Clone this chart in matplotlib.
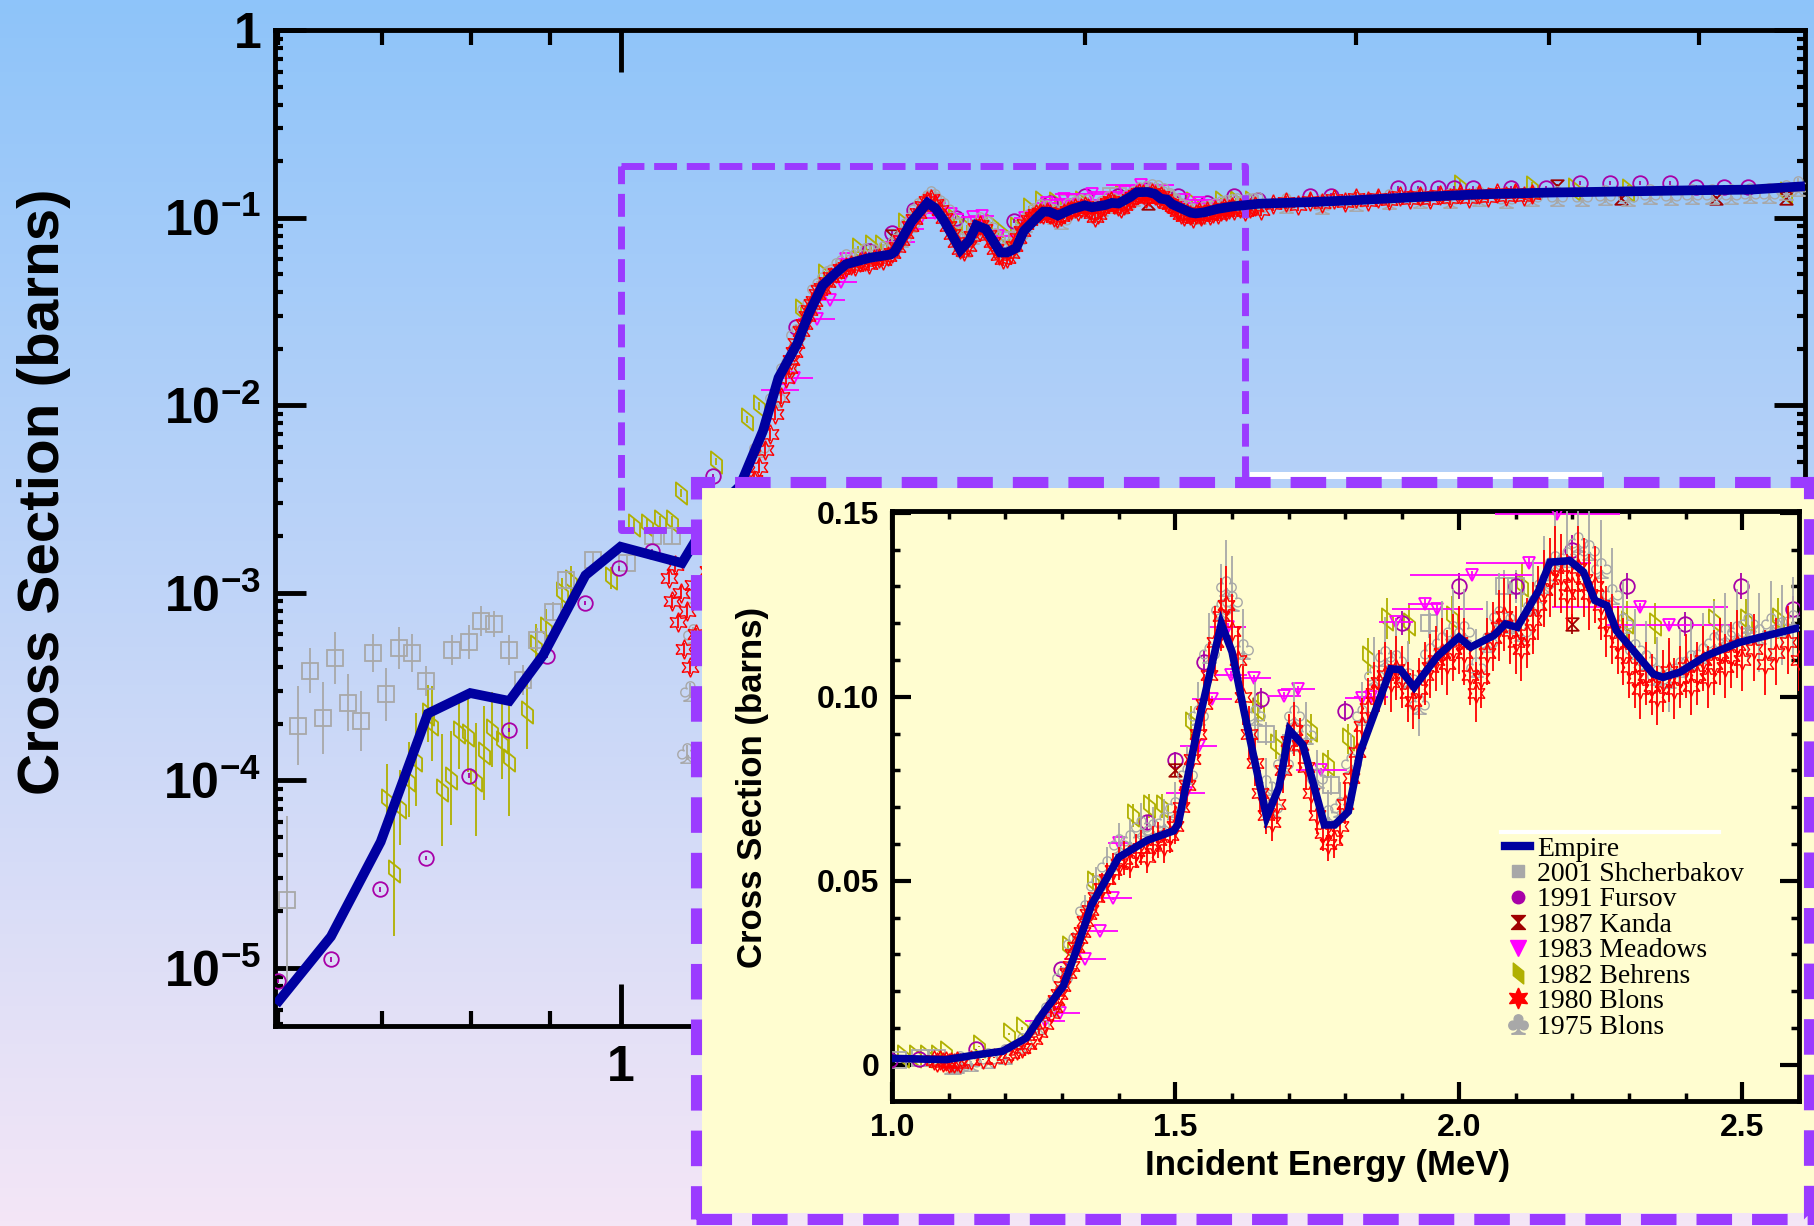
import numpy as np
import matplotlib.pyplot as plt
import matplotlib.ticker as ticker
from matplotlib import font_manager
from matplotlib.colors import LinearSegmentedColormap
from matplotlib.lines import Line2D
from matplotlib.patches import Rectangle
from matplotlib.path import Path

# ---------------- data ----------------
# Empire calculation (MeV, barns)
EMPIRE_E = [0.598, 0.649, 0.699, 0.750, 0.799, 0.847, 0.891, 0.949, 1.000, 1.096,
            1.148, 1.195, 1.237, 1.266, 1.302, 1.325, 1.352, 1.379, 1.400, 1.450,
            1.497, 1.505, 1.544, 1.581, 1.600, 1.621, 1.661, 1.683, 1.701, 1.725,
            1.763, 1.781, 1.805, 1.826, 1.868, 1.880, 1.897, 1.921, 1.962, 2.000,
            2.021, 2.062, 2.082, 2.103, 2.141, 2.161, 2.196, 2.220, 2.240, 2.261,
            2.278, 2.343, 2.360, 2.390, 2.437, 2.495, 2.595, 2.80, 3.00, 3.30,
            3.60, 4.00, 4.50, 5.00, 5.40, 5.86]
EMPIRE_XS = [6.4e-6, 1.47e-5, 4.7e-5, 2.27e-4, 2.92e-4, 2.65e-4, 4.66e-4, 1.24e-3, 1.76e-3, 1.44e-3,
             0.0027, 0.0037, 0.0073, 0.0140, 0.0213, 0.0310, 0.0435, 0.0507, 0.0564, 0.0610,
             0.0636, 0.0655, 0.0951, 0.1199, 0.1122, 0.0962, 0.0673, 0.0755, 0.0910, 0.0869,
             0.0652, 0.0652, 0.0688, 0.0850, 0.1026, 0.1076, 0.1074, 0.1026, 0.1110, 0.1162,
             0.1135, 0.1167, 0.1198, 0.1189, 0.1289, 0.1366, 0.1370, 0.1339, 0.1262, 0.1248,
             0.1180, 0.1062, 0.1053, 0.1067, 0.1112, 0.1148, 0.1186, 0.121, 0.124, 0.129,
             0.133, 0.136, 0.138, 0.140, 0.141, 0.147]

# 2001 Shcherbakov
SHCH_E = [0.608, 0.618, 0.629, 0.641, 0.653, 0.666, 0.679, 0.691, 0.705, 0.718,
          0.733, 0.748, 0.778, 0.797, 0.812, 0.828, 0.847, 0.864, 0.883, 0.904,
          0.922, 0.960, 1.010, 1.050, 1.080, 1.660, 1.707, 1.775, 1.947, 2.080, 2.100]
SHCH_XS = [2.3e-5, 1.96e-4, 3.83e-4, 2.15e-4, 4.5e-4, 2.6e-4, 2.08e-4, 4.78e-4, 2.87e-4, 5.08e-4,
           4.78e-4, 3.39e-4, 4.95e-4, 5.44e-4, 7.03e-4, 6.8e-4, 4.95e-4, 3.42e-4, 5.62e-4, 7.94e-4,
           1.17e-3, 1.5e-3, 1.44e-3, 2.0e-3, 2.0e-3, 0.090, 0.0875, 0.076, 0.120, 0.130, 0.130]
SHCH_DEC = [0.45, 0.21, 0.12, 0.19, 0.14, 0.15, 0.16, 0.10, 0.14, 0.11,
            0.10, 0.08, 0.08, 0.09, 0.08, 0.07, 0.08, 0.08, 0.06, 0.05,
            0.05, 0.04, 0.04, 0.04, 0.04, 0.015, 0.015, 0.015, 0.015, 0.015, 0.015]

# 1991 Fursov
FURS_E = [0.600, 0.649, 0.698, 0.748, 0.798, 0.847, 0.896, 0.949, 0.997, 1.048,
          1.148, 1.299, 1.45, 1.50, 1.55, 1.651, 1.80, 1.90, 2.00, 2.10,
          2.199, 2.297, 2.399, 2.498, 2.59, 2.80, 2.89, 3.19, 3.29, 3.39,
          3.47, 3.57, 3.78, 3.98, 4.19, 4.38, 4.58, 4.79, 4.98, 5.19, 5.38]
FURS_XS = [8.5e-6, 1.11e-5, 2.62e-5, 3.86e-5, 1.06e-4, 1.85e-4, 4.6e-4, 8.8e-4, 1.35e-3, 1.66e-3,
           0.0042, 0.0261, 0.066, 0.0828, 0.1096, 0.0995, 0.0961, 0.120, 0.130, 0.130,
           0.140, 0.130, 0.1198, 0.130, 0.124, 0.131, 0.131, 0.143, 0.143, 0.143,
           0.143, 0.143, 0.143, 0.143, 0.153, 0.153, 0.153, 0.153, 0.145, 0.145, 0.145]
FURS_DEC = 0.012

# 1987 Kanda
KANDA_E = [1.50, 2.199, 4.05, 4.45, 5.13, 5.70]
KANDA_XS = [0.0802, 0.1198, 0.147, 0.128, 0.128, 0.128]

# 1983 Meadows (with energy resolution)
MEAD_E = [1.270, 1.296, 1.340, 1.367, 1.390, 1.400, 1.518, 1.541, 1.565, 1.592,
          1.598, 1.639, 1.692, 1.716, 1.757, 1.830, 1.845, 1.889, 1.940, 1.962,
          2.023, 2.123, 2.174, 2.370, 2.320]
MEAD_XS = [0.0120, 0.0140, 0.0287, 0.0363, 0.0453, 0.0602, 0.0740, 0.0867, 0.0993, 0.1190,
           0.1060, 0.1050, 0.1003, 0.1020, 0.0800, 0.0996, 0.1000, 0.1203, 0.1253, 0.1239,
           0.1330, 0.1364, 0.1497, 0.1196, 0.1243]
MEAD_DE = [0.036, 0.036, 0.037, 0.032, 0.033, 0.018, 0.035, 0.033, 0.035, 0.033,
           0.028, 0.030, 0.030, 0.030, 0.045, 0.030, 0.030, 0.030, 0.030, 0.080,
           0.110, 0.110, 0.110, 0.110, 0.155]

# 1982 Behrens
BEHR_E = [0.706, 0.713, 0.720, 0.729, 0.737, 0.750, 0.755, 0.766, 0.776, 0.786,
          0.796, 0.806, 0.816, 0.826, 0.838, 0.847, 0.870, 0.881, 0.895, 0.917,
          0.929, 0.986, 1.02, 1.04, 1.06, 1.08, 1.095, 1.154, 1.207, 1.23,
          1.31, 1.355, 1.426, 1.453, 1.476, 1.527, 1.645, 1.677, 1.74, 1.769,
          1.804, 1.839, 1.874, 1.912, 1.988, 2.111, 2.296, 2.346, 2.451, 2.507,
          2.563, 3.5, 3.9, 4.15, 4.5, 5.7]
BEHR_XS = [7.9e-5, 3.3e-5, 7.2e-5, 1.01e-4, 1.29e-4, 2.27e-4, 2.0e-4, 8.9e-5, 1.03e-4, 1.82e-4,
           1.75e-4, 1.01e-4, 1.4e-4, 1.86e-4, 1.61e-4, 1.29e-4, 2.32e-4, 5.2e-4, 6.5e-4, 1.0e-3,
           1.15e-3, 1.2e-3, 2.3e-3, 2.3e-3, 2.4e-3, 2.4e-3, 0.0034, 0.0050, 0.0084, 0.0099,
           0.032, 0.0497, 0.0678, 0.0703, 0.0703, 0.093, 0.0967, 0.0869, 0.091, 0.0817,
           0.0885, 0.1108, 0.1212, 0.1198, 0.1216, 0.1303, 0.1203, 0.1198, 0.121, 0.121,
           0.1212, 0.148, 0.145, 0.142, 0.140, 0.135]
BEHR_DEC = [0.19, 0.35, 0.20, 0.20, 0.25, 0.15, 0.20, 0.30, 0.25, 0.20,
            0.20, 0.30, 0.25, 0.20, 0.20, 0.30, 0.20, 0.12, 0.10, 0.08,
            0.08, 0.06, 0.03, 0.03, 0.03, 0.03, 0.02, 0.02, 0.02, 0.02,
            0.02, 0.02, 0.02, 0.02, 0.02, 0.02, 0.02, 0.02, 0.02, 0.02,
            0.02, 0.02, 0.02, 0.02, 0.02, 0.02, 0.02, 0.02, 0.02, 0.02,
            0.02, 0.03, 0.03, 0.03, 0.03, 0.03]

# 1980 Blons
BL80_E = [1.075, 1.080, 1.085, 1.090, 1.095, 1.100, 1.105, 1.110, 1.115, 1.120,
          1.14, 1.16, 1.18, 1.20, 1.22, 1.24, 1.26, 1.28, 1.29, 1.30,
          1.31, 1.32, 1.33, 1.34, 1.35, 1.36, 1.37, 1.38, 1.39, 1.40,
          1.41, 1.42, 1.43, 1.44, 1.45, 1.46, 1.47, 1.48, 1.49, 1.50,
          1.51, 1.52, 1.53, 1.54, 1.55, 1.56, 1.57, 1.58, 1.59, 1.60,
          1.61, 1.62, 1.63, 1.64, 1.65, 1.66, 1.67, 1.68, 1.69, 1.70,
          1.71, 1.72, 1.73, 1.74, 1.75, 1.76, 1.77, 1.78, 1.79, 1.80,
          1.81, 1.82, 1.83, 1.84, 1.85, 1.86, 1.87, 1.88, 1.89, 1.90,
          1.91, 1.92, 1.93, 1.94, 1.95, 1.96, 1.97, 1.98, 1.99, 2.00,
          2.01, 2.02, 2.03, 2.04, 2.05, 2.06, 2.07, 2.08, 2.09, 2.10,
          2.11, 2.12, 2.13, 2.14, 2.15, 2.16, 2.17, 2.18, 2.19, 2.20,
          2.21, 2.22, 2.23, 2.24, 2.25, 2.26, 2.27, 2.28, 2.29, 2.30,
          2.31, 2.32, 2.33, 2.34, 2.35, 2.36, 2.37, 2.38, 2.39, 2.40,
          2.41, 2.42, 2.43, 2.44, 2.45, 2.46, 2.47, 2.48, 2.49, 2.50,
          2.52, 2.54, 2.56, 2.58, 2.60, 2.65, 2.70, 2.75, 2.80, 2.85,
          2.90, 2.95, 3.00, 3.05, 3.10, 3.15, 3.20, 3.25, 3.30, 3.35,
          3.40, 3.45, 3.50, 3.55, 3.60, 3.65, 3.70, 3.75, 3.80, 3.85, 3.90,
          1.21, 1.23, 1.25, 1.27, 1.285, 1.295, 1.315, 1.325, 1.335, 1.345]
BL80_XS = [1.2e-3, 9e-4, 1.4e-3, 7e-4, 1.0e-3, 5e-4, 8e-4, 4e-4, 1.1e-3, 6e-4,
           0.0013, 0.0015, 0.0020, 0.0026, 0.0040, 0.0058, 0.0090, 0.0140, 0.0175, 0.0215,
           0.0250, 0.0300, 0.0345, 0.0390, 0.0420, 0.0455, 0.0480, 0.0505, 0.0530, 0.0545,
           0.0560, 0.0550, 0.0580, 0.0590, 0.0565, 0.0600, 0.0610, 0.0595, 0.0625, 0.0650,
           0.0700, 0.0760, 0.0830, 0.0900, 0.0980, 0.1060, 0.1150, 0.1220, 0.1250, 0.1180,
           0.1100, 0.1000, 0.0900, 0.0820, 0.0740, 0.0680, 0.0660, 0.0710, 0.0800, 0.0880,
           0.0910, 0.0870, 0.0810, 0.0740, 0.0680, 0.0630, 0.0600, 0.0610, 0.0650, 0.0710,
           0.0780, 0.0850, 0.0920, 0.0970, 0.1010, 0.1040, 0.1060, 0.1040, 0.1075, 0.1050,
           0.1010, 0.0990, 0.1020, 0.1060, 0.1080, 0.1100, 0.1120, 0.1090, 0.1130, 0.1150,
           0.1120, 0.1060, 0.1010, 0.1050, 0.1120, 0.1160, 0.1190, 0.1220, 0.1180, 0.1150,
           0.1130, 0.1170, 0.1210, 0.1250, 0.1290, 0.1320, 0.1350, 0.1330, 0.1280, 0.1300,
           0.1350, 0.1320, 0.1280, 0.1300, 0.1250, 0.1200, 0.1180, 0.1150, 0.1120, 0.1080,
           0.1050, 0.1020, 0.1060, 0.1030, 0.1000, 0.1040, 0.1070, 0.1020, 0.1050, 0.1080,
           0.1030, 0.1060, 0.1100, 0.1050, 0.1090, 0.1120, 0.1080, 0.1110, 0.1140, 0.1100,
           0.1130, 0.1090, 0.1120, 0.1150, 0.1100, 0.1180, 0.1210, 0.1170, 0.1230, 0.1200,
           0.1250, 0.1210, 0.1270, 0.1230, 0.1280, 0.1240, 0.1300, 0.1260, 0.1310, 0.1250,
           0.1320, 0.1270, 0.1330, 0.1280, 0.1340, 0.1290, 0.1350, 0.1300, 0.1360, 0.1310, 0.1340,
           0.0031, 0.0047, 0.0070, 0.0110, 0.0158, 0.0192, 0.0270, 0.0320, 0.0360, 0.0410]
BL80_DEC = 0.035

# 1975 Blons
BL75_E = [1.105, 1.110, 1.115, 1.120, 1.14, 1.17, 1.20, 1.23, 1.26, 1.28,
          1.30, 1.32, 1.34, 1.36, 1.38, 1.40, 1.42, 1.44, 1.46, 1.48,
          1.50, 1.52, 1.54, 1.56, 1.58, 1.59, 1.60, 1.62, 1.64, 1.66,
          1.67, 1.69, 1.71, 1.73, 1.75, 1.77, 1.79, 1.81, 1.83, 1.85,
          1.87, 1.89, 1.91, 1.93, 1.95, 1.97, 1.99, 2.01, 2.03, 2.05,
          2.07, 2.09, 2.11, 2.13, 2.15, 2.17, 2.19, 2.21, 2.23, 2.25,
          2.27, 2.29, 2.31, 2.33, 2.35, 2.37, 2.39, 2.41, 2.43, 2.45,
          2.47, 2.49, 2.51, 2.53, 2.55, 2.57, 2.59, 2.70, 2.85, 3.00,
          3.15, 3.30, 3.45, 3.60, 3.75, 3.90, 4.05, 4.20, 4.35, 4.50,
          4.65, 4.80, 4.95, 5.10, 5.25, 5.40, 5.55, 5.70, 5.80]
BL75_XS = [1.4e-4, 3.0e-4, 6.0e-4, 1.0e-3, 0.0010, 0.0018, 0.0030, 0.0060, 0.0110, 0.0160,
           0.0240, 0.0330, 0.0420, 0.0490, 0.0540, 0.0600, 0.0610, 0.0650, 0.0640, 0.0660,
           0.0700, 0.0790, 0.0950, 0.1120, 0.1240, 0.1300, 0.1260, 0.1130, 0.0950, 0.0760,
           0.0700, 0.0820, 0.0950, 0.0900, 0.0780, 0.0680, 0.0700, 0.0820, 0.0950, 0.1060,
           0.1110, 0.1100, 0.1050, 0.0980, 0.1120, 0.1150, 0.1180, 0.1180, 0.1080, 0.1150,
           0.1220, 0.1200, 0.1180, 0.1250, 0.1310, 0.1370, 0.1380, 0.1420, 0.1400, 0.1350,
           0.1280, 0.1200, 0.1130, 0.1100, 0.1060, 0.1050, 0.1080, 0.1100, 0.1120, 0.1150,
           0.1170, 0.1180, 0.1200, 0.1170, 0.1200, 0.1190, 0.1210, 0.1200, 0.1180, 0.1220,
           0.1250, 0.1280, 0.1270, 0.1300, 0.1280, 0.1310, 0.1300, 0.1310, 0.1320, 0.1310,
           0.1330, 0.1320, 0.1340, 0.1330, 0.1340, 0.1350, 0.1360, 0.1400, 0.1480]
BL75_DEC = 0.04

# zoom window marked on the log-log plot
ZOOM_E = [1.0, 2.54]
ZOOM_XS = [2.17e-3, 0.189]

# ---------------- style ----------------
fonts = {f.name for f in font_manager.fontManager.ttflist}
NARROW = "Liberation Sans Narrow" if "Liberation Sans Narrow" in fonts else "Liberation Sans"
TICK_SIZE = 42 if NARROW == "Liberation Sans Narrow" else 36

plt.rcParams["font.family"] = ["Liberation Sans", "DejaVu Sans"]
plt.rcParams["mathtext.fontset"] = "custom"
plt.rcParams["mathtext.bf"] = NARROW + ":bold"
plt.rcParams["mathtext.rm"] = NARROW + ":bold"

NAVY = "#0000A0"
PURPLE = "#9B3BFF"
GRAY = "#A8A8A8"
VIOLET = "#A800A8"
DARKRED = "#A00000"
MAGENTA = "#FF00FF"
OLIVE = "#B0B000"
RED = "#FF0000"

HOURGLASS = Path([(-1, 1), (1, 1), (-1, -1), (1, -1), (-1, 1)],
                 [Path.MOVETO, Path.LINETO, Path.LINETO, Path.LINETO, Path.CLOSEPOLY])
PARALLELOGRAM = Path([(-0.5, 1.0), (0.5, 0.2), (0.5, -1.0), (-0.5, -0.2), (-0.5, 1.0)],
                     [Path.MOVETO, Path.LINETO, Path.LINETO, Path.LINETO, Path.CLOSEPOLY])
CLUB = r"$\clubsuit$"
STAR6 = (6, 1, 0)


def draw_series(a, e, xs, dec, color, marker, ms, xerr=None, z=3, mew=1.3):
    xs = np.asarray(xs, float)
    dec = np.broadcast_to(np.asarray(dec, float), xs.shape)
    yerr = [xs * (1 - 10 ** -dec), xs * (10 ** dec - 1)]
    a.errorbar(e, xs, yerr=yerr, xerr=xerr, fmt="none", ecolor=color,
               elinewidth=1.3, zorder=z)
    a.plot(e, xs, ls="none", marker=marker, ms=ms, mfc="none", mec=color,
           mew=mew, zorder=z)


def draw_all(a, lw):
    draw_series(a, BEHR_E, BEHR_XS, BEHR_DEC, OLIVE, PARALLELOGRAM, 16)
    draw_series(a, SHCH_E, SHCH_XS, SHCH_DEC, GRAY, "s", 11)
    draw_series(a, FURS_E, FURS_XS, FURS_DEC, VIOLET, "o", 10.5)
    draw_series(a, KANDA_E, KANDA_XS, 0.01, DARKRED, HOURGLASS, 9)
    draw_series(a, MEAD_E, MEAD_XS, 0.004, MAGENTA, "v", 8, xerr=MEAD_DE)
    draw_series(a, BL75_E, BL75_XS, BL75_DEC, GRAY, CLUB, 14, mew=1.0)
    draw_series(a, BL80_E, BL80_XS, BL80_DEC, RED, STAR6, 14, z=3.5, mew=1.0)
    a.plot(EMPIRE_E, EMPIRE_XS, color=NAVY, lw=lw, zorder=5,
           solid_joinstyle="miter", solid_capstyle="butt")


fig = plt.figure(figsize=(18.14, 12.26), dpi=100)

# gradient background
bg = fig.add_axes([0, 0, 1, 1], zorder=-10)
cmap = LinearSegmentedColormap.from_list("bg", ["#8EC4FA", "#F4E6F6"])
bg.imshow(np.linspace(0, 1, 256).reshape(-1, 1), aspect="auto", cmap=cmap,
          extent=[0, 1, 0, 1])
bg.axis("off")

# ---------------- main log-log plot ----------------
ax = fig.add_axes([0.1516, 0.1631, 0.8434, 0.8124], zorder=1)
ax.patch.set_alpha(0)
ax.set_xscale("log")
ax.set_yscale("log")
draw_all(ax, 7)
ax.plot([ZOOM_E[0], ZOOM_E[1], ZOOM_E[1], ZOOM_E[0], ZOOM_E[0]],
        [ZOOM_XS[1], ZOOM_XS[1], ZOOM_XS[0], ZOOM_XS[0], ZOOM_XS[1]],
        color=PURPLE, lw=5, ls=(0, (3.3, 1.4)), zorder=4)
ax.set_xlim(0.597, 5.86)
ax.set_ylim(4.9e-6, 1)

ax.xaxis.set_major_locator(ticker.FixedLocator([1.0]))
ax.xaxis.set_minor_locator(ticker.FixedLocator([0.6, 0.7, 0.8, 0.9, 2, 3, 4, 5]))
ax.xaxis.set_major_formatter(ticker.FuncFormatter(lambda v, p: r"$\mathbf{1}$"))
ax.xaxis.set_minor_formatter(ticker.NullFormatter())
ax.yaxis.set_major_locator(ticker.LogLocator(base=10, numticks=10))
ax.yaxis.set_minor_locator(ticker.LogLocator(base=10, subs=np.arange(2, 10), numticks=20))
ax.yaxis.set_minor_formatter(ticker.NullFormatter())


def ylab(v, pos):
    e = int(round(np.log10(v)))
    if e == 0:
        return r"$\mathbf{1}$"
    return r"$\mathbf{10^{%d}}$" % e


ax.yaxis.set_major_formatter(ticker.FuncFormatter(ylab))
ax.tick_params(which="both", direction="in", top=True, right=True)
ax.tick_params(which="major", length=22, width=3.5, labelsize=TICK_SIZE, pad=10)
ax.tick_params(axis="x", which="major", length=30, pad=14)
ax.tick_params(which="minor", length=6, width=3)
ax.tick_params(axis="x", which="minor", length=11)
for s in ax.spines.values():
    s.set_linewidth(3.5)

fig.text(0.0243, 0.5987, "Cross Section (barns)", rotation=90, ha="center",
         va="center", fontsize=42, fontweight="bold")

# ---------------- inset box ----------------
fig.add_artist(Rectangle((0.387, 0.0106), 0.62, 0.5915, transform=fig.transFigure,
                         facecolor="#FFFDD0", edgecolor="none", zorder=2))
fig.add_artist(Rectangle((0.689, 0.6093), 0.194, 0.0055, transform=fig.transFigure,
                         facecolor="white", edgecolor="none", zorder=2.2))
fig.add_artist(Rectangle((0.3837, 0.0057), 0.6138, 0.6012, transform=fig.transFigure,
                         facecolor="none", edgecolor=PURPLE, lw=8,
                         ls=(0, (3.2, 1.8)), zorder=2.5))

ax2 = fig.add_axes([0.4917, 0.1020, 0.5000, 0.4812], zorder=3)
ax2.patch.set_alpha(0)
draw_all(ax2, 5.5)
ax2.set_xlim(1.0, 2.6)
ax2.set_ylim(-0.0098, 0.1505)
ax2.set_xticks([1.0, 1.5, 2.0, 2.5])
ax2.set_xticklabels(["1.0", "1.5", "2.0", "2.5"], fontweight="bold")
ax2.set_yticks([0, 0.05, 0.10, 0.15])
ax2.set_yticklabels(["0", "0.05", "0.10", "0.15"], fontweight="bold")
ax2.xaxis.set_minor_locator(ticker.MultipleLocator(0.1))
ax2.yaxis.set_minor_locator(ticker.MultipleLocator(0.01))
ax2.tick_params(which="both", direction="in", top=True, right=True)
ax2.tick_params(which="major", length=14, width=3, labelsize=23, pad=9)
ax2.tick_params(which="minor", length=6, width=2.5)
for s in ax2.spines.values():
    s.set_linewidth(3.5)

fig.text(0.732, 0.049, "Incident Energy (MeV)", ha="center", va="center",
         fontsize=25, fontweight="bold")
fig.text(0.4146, 0.358, "Cross Section (barns)", rotation=90, ha="center",
         va="center", fontsize=25, fontweight="bold")

handles = [
    Line2D([], [], color=NAVY, lw=6),
    Line2D([], [], ls="none", marker="s", ms=9, color=GRAY),
    Line2D([], [], ls="none", marker="o", ms=9, color=VIOLET),
    Line2D([], [], ls="none", marker=HOURGLASS, ms=10, color=DARKRED),
    Line2D([], [], ls="none", marker="v", ms=11, color=MAGENTA),
    Line2D([], [], ls="none", marker=PARALLELOGRAM, ms=15, color=OLIVE),
    Line2D([], [], ls="none", marker=STAR6, ms=15, color=RED),
    Line2D([], [], ls="none", marker=CLUB, ms=14, color=GRAY),
]
labels = ["Empire", "2001 Shcherbakov", "1991 Fursov", "1987 Kanda",
          "1983 Meadows", "1982 Behrens", "1980 Blons", "1975 Blons"]
ax2.plot([0.671, 0.912], [0.456, 0.456], transform=ax2.transAxes, color="white",
         lw=3, clip_on=False)
ax2.legend(handles, labels, loc="upper left", bbox_to_anchor=(0.676, 0.449),
           frameon=False, prop={"family": "Liberation Serif", "size": 20},
           handlelength=0.9, handletextpad=0.25, labelspacing=0.0,
           borderpad=0, borderaxespad=0)

fig.savefig("out.png", dpi=100)
